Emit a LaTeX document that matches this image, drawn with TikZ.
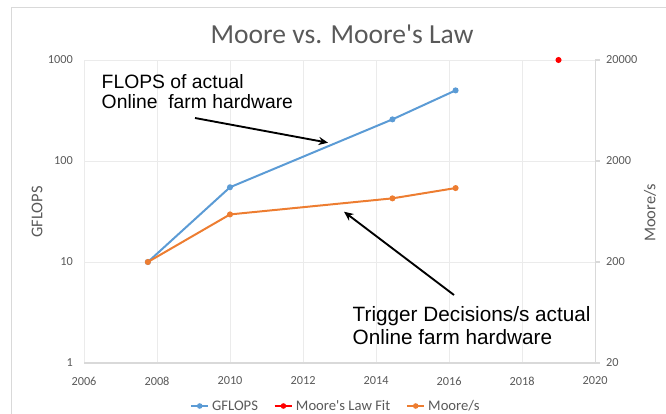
\documentclass[tikz,border=0pt]{standalone}
\usepackage{fontspec}
\setmainfont{Carlito}
\newfontfamily\arialfont{Liberation Sans}
\usetikzlibrary{arrows.meta,positioning}

\definecolor{gflopsblue}{HTML}{5B9BD5}
\definecolor{mooreorange}{HTML}{ED7D31}
\definecolor{fitred}{HTML}{FF0000}
\definecolor{gridgray}{HTML}{EBEBEB}
\definecolor{axisgray}{HTML}{D9D9D9}
\definecolor{labelgray}{HTML}{595959}

\tikzset{
  gridline/.style={draw=gridgray, line width=0.8pt},
  axisline/.style={draw=axisgray, line width=0.9pt},
  ticklabel/.style={text=labelgray, font=\fontsize{10.5}{12}\selectfont, inner sep=0pt},
  axistitle/.style={text=labelgray, font=\fontsize{14}{16}\selectfont, rotate=90, inner sep=0pt},
  legendlabel/.style={text=labelgray, font=\fontsize{12.5}{14}\selectfont, inner sep=0pt, anchor=west},
  series/.style={line width=1.7pt, line join=round},
  legendline/.style={line width=1.7pt},
  note/.style={font=\arialfont, align=left, inner sep=0pt, anchor=north west},
  pointer/.style={line width=1.6pt, -{Stealth[length=8pt,width=7pt]}},
}

\begin{document}
\begin{tikzpicture}[x=0.03cm, y=0.03cm]
\useasboundingbox (0,0) rectangle (666,413);
% chart frame
\draw[axisgray, line width=0.8pt] (11,-10) -- (11,406) -- (680,406);

\node[text=labelgray, font=\fontsize{23.5}{28}\selectfont, anchor=base] (title) at (342,369) {Moore vs. Moore\textquotesingle s Law};

% plot area: x in years after 2006, y in decades
\begin{scope}[shift={(84,50)}, x=1.095cm, y=3.03cm]
  \draw[gridline] (0,1) -- (14,1);
  \draw[gridline] (0,2) -- (14,2);
  \draw[gridline] (0,3) -- (14,3);
  \foreach \yr in {0,2,...,12}
    \draw[gridline] (\yr,0) -- (\yr,3);
  \draw[axisline] (0,0) -- (14,0);
  \draw[axisline] (14,0) -- (14,3);
  \foreach \dec in {0,1,2,3}
    \draw[axisline] (14,\dec) -- ++(4pt,0);

  \node[ticklabel, anchor=east] (left1) at (-0.3,0) {1};
  \node[ticklabel, anchor=east] (left10) at (-0.3,1) {10};
  \node[ticklabel, anchor=east] (left100) at (-0.3,2) {100};
  \node[ticklabel, anchor=east] (left1000) at (-0.3,3) {1000};
  \node[ticklabel, anchor=west] (right20) at (14.3,0) {20};
  \node[ticklabel, anchor=west] (right200) at (14.3,1) {200};
  \node[ticklabel, anchor=west] (right2000) at (14.3,2) {2000};
  \node[ticklabel, anchor=west] (right20000) at (14.3,3) {20000};
  \foreach \yr in {0,2,...,14}
    \node[ticklabel] (year\yr) at (\yr,-0.178) {\the\numexpr2006+\yr\relax};

  \coordinate (g1) at (1.75,1);
  \coordinate (g2) at (4,1.740);
  \coordinate (g3) at (8.45,2.412);
  \coordinate (g4) at (10.18,2.699);
  \coordinate (m1) at (1.75,1);
  \coordinate (m2) at (4,1.471);
  \coordinate (m3) at (8.45,1.630);
  \coordinate (m4) at (10.18,1.732);
  \coordinate (fit) at (13,3);

  \draw[series, gflopsblue] (g1) -- (g2) -- (g3) -- (g4);
  \foreach \p in {g1,g2,g3,g4}
    \fill[gflopsblue] (\p) circle (2.6pt);
  \draw[series, mooreorange] (m1) -- (m2) -- (m3) -- (m4);
  \foreach \p in {m1,m2,m3,m4}
    \fill[mooreorange] (\p) circle (2.6pt);
  \fill[fitred] (fit) circle (2.6pt);
\end{scope}

\node[axistitle] (gflopsTitle) at (37,201) {GFLOPS};
\node[axistitle] (mooreTitle) at (650,200) {Moore/s};

% annotations
\node[note, font=\arialfont\fontsize{16.5}{16.5}\selectfont] (flopsNote) at (101.5,338.5)
  {FLOPS of actual\\Online\ \ farm hardware};
\node[note, font=\arialfont\fontsize{17.7}{20}\selectfont] (trigNote) at (352.5,107)
  {Trigger Decisions/s actual\\Online farm hardware};
\coordinate (flopsTail) at (195,295);
\coordinate (flopsTip) at (328,270.3);
\coordinate (trigTail) at (454,118);
\coordinate (trigTip) at (344,201.3);
\draw[pointer] (flopsTail) -- (flopsTip);
\draw[pointer] (trigTail) -- (trigTip);

% legend
\node[legendlabel] (legGflops) at (212,7) {GFLOPS};
\node[legendlabel, right=32pt of legGflops] (legFit) {Moore\textquotesingle s Law Fit};
\node[legendlabel, right=32pt of legFit] (legMoore) {Moore/s};
\draw[legendline, gflopsblue] ([xshift=-18pt]legGflops.west) -- ([xshift=-3pt]legGflops.west);
\fill[gflopsblue] ([xshift=-10.5pt]legGflops.west) circle (2.4pt);
\draw[legendline, fitred] ([xshift=-18pt]legFit.west) -- ([xshift=-3pt]legFit.west);
\fill[fitred] ([xshift=-10.5pt]legFit.west) circle (2.4pt);
\draw[legendline, mooreorange] ([xshift=-18pt]legMoore.west) -- ([xshift=-3pt]legMoore.west);
\fill[mooreorange] ([xshift=-10.5pt]legMoore.west) circle (2.4pt);
\end{tikzpicture}
\end{document}
